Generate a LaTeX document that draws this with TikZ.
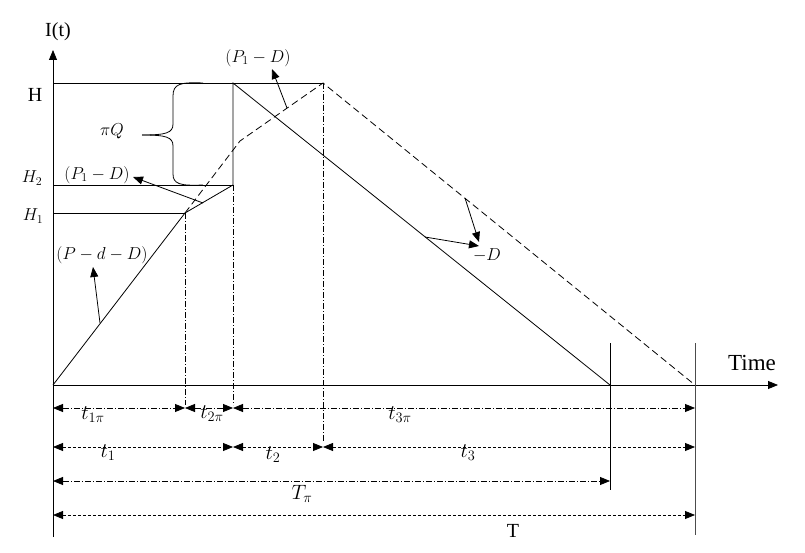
\documentclass[tikz,border=0pt]{standalone}
\usepackage{fontspec}
\setmainfont{Liberation Serif}
\usetikzlibrary{arrows.meta}
\begin{document}
\begin{tikzpicture}[x=1pt,y=-1pt,
  line width=0.8pt,
  tip/.style={-{Triangle[length=10pt,width=8pt]}},
  dimarrow/.style={{Triangle[length=10pt,width=8pt]}-{Triangle[length=10pt,width=8pt]}},
  dashdot/.style={dash pattern=on 6pt off 2pt on 1pt off 2pt},
  dsh/.style={dash pattern=on 3pt off 2pt},
  curvedash/.style={dash pattern=on 7pt off 4pt},
  txt/.style={font=\fontsize{20}{24}\selectfont, inner sep=0pt},
  mlab/.style={font=\fontsize{18.5}{22}\selectfont, inner sep=0pt},
  tlab/.style={font=\fontsize{20.5}{24}\selectfont, inner sep=0pt},
]
\useasboundingbox (0,0) rectangle (805,553);
% key points
\coordinate (O) at (53,385);
\coordinate (Ytop) at (53,50);
\coordinate (Ybot) at (53,537);
\coordinate (Xend) at (778,385);
\coordinate (A) at (185,213);
\coordinate (B) at (233,185);
\coordinate (C) at (233,83);
\coordinate (K) at (240,141);
\coordinate (M) at (323,83);
\coordinate (E1) at (610,385);
\coordinate (E2) at (695,385);
\coordinate (yH) at (53,83);
\coordinate (yH2) at (53,185);
\coordinate (yH1) at (53,213);
% axes
\draw[tip] (Ybot) -- (Ytop);
\draw[tip] (O) -- (Xend);
% horizontal levels
\draw (yH) -- (M);
\draw (yH2) -- (B);
\draw (yH1) -- (A);
% solid inventory curve
\draw (O) -- (A) -- (B) -- (C) -- (E1);
% dashed inventory curve
\draw[curvedash] (A) -- (K) -- (M) -- (E2);
% vertical end lines
\coordinate (E1t) at (610,343);
\coordinate (E1b) at (610,490);
\coordinate (E2t) at (695,343);
\coordinate (E2b) at (695,535);
\draw (E1t) -- (E1b);
\draw[black!70] (E2t) -- (E2b);
% dash-dot verticals
\coordinate (Ab) at (185,405);
\coordinate (Bb) at (233,405);
\coordinate (Mb) at (323,442);
\draw[dashdot] (A) -- (Ab);
\draw[dashdot] (B) -- (Bb);
\draw[dashdot] (M) -- (Mb);
% dimension row 1
\coordinate (r1a) at (53,408);
\coordinate (r1b) at (185,408);
\coordinate (r1c) at (233,408);
\coordinate (r1d) at (695,408);
\draw[dashdot,dimarrow] (r1a) -- (r1b);
\draw[dashdot,dimarrow] (r1b) -- (r1c);
\draw[dashdot,dimarrow] (r1c) -- (r1d);
% row 2
\coordinate (r2a) at (53,447);
\coordinate (r2b) at (233,447);
\coordinate (r2c) at (323,447);
\coordinate (r2d) at (695,447);
\draw[dsh,dimarrow] (r2a) -- (r2b);
\draw[dsh,dimarrow] (r2b) -- (r2c);
\draw[dsh,dimarrow] (r2c) -- (r2d);
% row 3
\coordinate (r3a) at (53,481);
\coordinate (r3b) at (610,481);
\draw[dashdot,dimarrow] (r3a) -- (r3b);
% row 4
\coordinate (r4a) at (53,515);
\coordinate (r4b) at (695,515);
\draw[dsh,dimarrow] (r4a) -- (r4b);
% brace
\draw (203,83) .. controls (180,82) and (173,84) .. (173,96) -- (173,124) .. controls (173,133) and (166,135) .. (142,135);
\draw (203,185) .. controls (180,186) and (173,184) .. (173,174) -- (173,146) .. controls (173,137) and (166,135) .. (142,135);
% labels
\node[txt] (lI) at (58,32) {I(t)};
\node[txt] (lH) at (35,95) {H};
\node[mlab] (lH2) at (32,178) {$H_2$};
\node[mlab] (lH1) at (33,216) {$H_1$};
\node[txt, font=\fontsize{23}{26}\selectfont] (lTime) at (752,363) {Time};
\node[mlab] (lpiQ) at (112,131) {$\pi Q$};
\node[mlab] (lP1a) at (258,58) {$(P_1-D)$};
\node[mlab] (lP1b) at (97,175) {$(P_1-D)$};
\node[mlab] (lPdD) at (102,255) {$(P-d-D)$};
\node[mlab] (lD) at (487,255) {$-D$};
\node[tlab] (t1pi) at (93,415) {$t_{1\pi}$};
\node[tlab] (t2pi) at (212,414) {$t_{2\pi}$};
\node[tlab] (t3pi) at (400,415) {$t_{3\pi}$};
\node[tlab] (t1) at (108,453) {$t_1$};
\node[tlab] (t2) at (273,455) {$t_2$};
\node[tlab] (t3) at (468,453) {$t_3$};
\node[tlab] (Tpi) at (302,494) {$T_\pi$};
\node[txt] (lT) at (513,531) {T};
% pointer arrows
\coordinate (pa1) at (287,108);
\coordinate (pa1t) at (272,69);
\draw[tip] (pa1) -- (pa1t);
\coordinate (pa2) at (203,203);
\coordinate (pa2t) at (133,177);
\draw[tip] (pa2) -- (pa2t);
\coordinate (pa3) at (100,323);
\coordinate (pa3t) at (93,267);
\draw[tip] (pa3) -- (pa3t);
\coordinate (pa4) at (425,237);
\coordinate (pa4t) at (479,246);
\draw[tip] (pa4) -- (pa4t);
\coordinate (pa5) at (465,198);
\coordinate (pa5t) at (479,242);
\draw[tip] (pa5) -- (pa5t);
\end{tikzpicture}
\end{document}
